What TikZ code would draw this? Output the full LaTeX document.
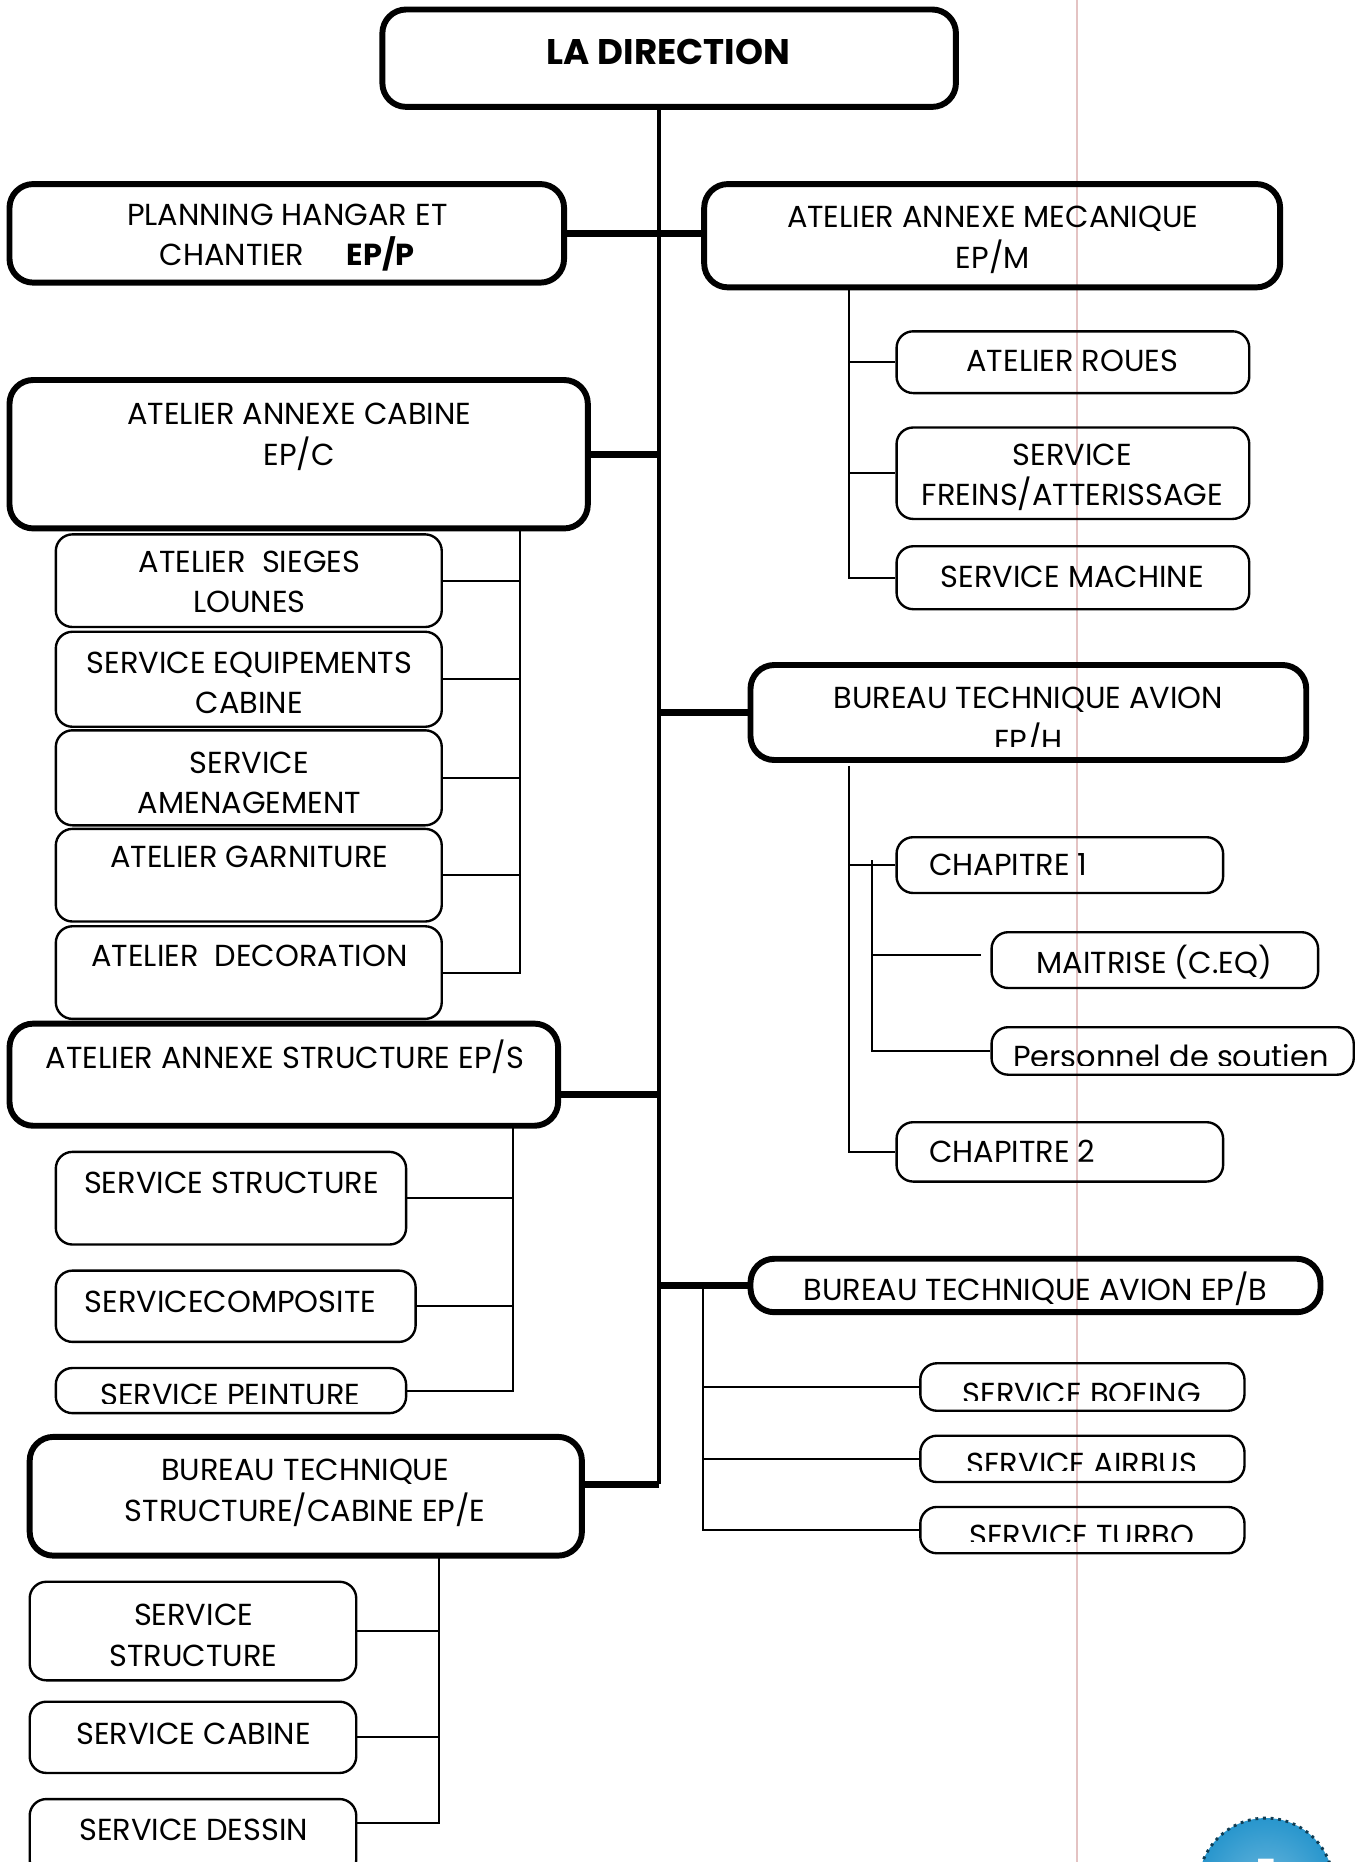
\documentclass[tikz,border=0pt]{standalone}
\usepackage{fontspec}
\setmainfont{Poppins}
\usetikzlibrary{fit, positioning}

\definecolor{pageblue}{RGB}{40,150,205}
\definecolor{scanline}{RGB}{228,195,195}

\tikzset{
  head/.style={draw, line width=2.5pt, rounded corners=10pt, inner sep=0pt},
  unit/.style={draw, line width=1pt, rounded corners=7pt, inner sep=0pt},
  lbl/.style={align=center, inner sep=0pt, font=\fontsize{12.8}{17}\selectfont},
  bus/.style={line width=3pt},
  trunk/.style={line width=1.8pt},
  link/.style={line width=0.9pt},
}

\begin{document}
\begin{tikzpicture}[x=0.5pt, y=-0.5pt]
  \clip (0,0) rectangle (1150,1568);
  \fill[white] (0,0) rectangle (1150,1568);
  \draw[scanline, line width=0.6pt] (907,0) -- (907,1568);

  % Direction
  \node[head, fit={(322,8) (805,90)}] (dir) {};
  \node[lbl, font=\fontsize{15}{18}\selectfont\bfseries] (dir-t) at (563,44) {LA DIRECTION};
  \coordinate (t0) at (555,90);

  % Planning / mecanique
  \node[head, fit={(8,155) (475,238)}] (plan) {};
  \node[lbl] (plan-t) at (242,200) {PLANNING HANGAR ET\\CHANTIER\hspace{1.4em}\textbf{EP/P}};
  \node[head, fit={(593,155) (1078,242)}] (mec) {};
  \node[lbl] (mec-t) at (836,202) {ATELIER ANNEXE MECANIQUE\\EP/M};
  \draw[bus] (plan.east) -- (plan.east -| mec.west);

  \node[unit, fit={(755,279) (1052,331)}] (roues) {};
  \node[lbl] (roues-t) at (903,304) {ATELIER ROUES};
  \node[unit, fit={(755,360) (1052,437)}] (freins) {};
  \node[lbl] (freins-t) at (903,402) {SERVICE\\FREINS/ATTERISSAGE};
  \node[unit, fit={(755,460) (1052,513)}] (mach) {};
  \node[lbl] (mach-t) at (903,486) {SERVICE MACHINE};
  \coordinate (m0) at (715,240);
  \foreach \c in {roues, freins, mach}
    \draw[link] (m0) |- (\c.west);

  % Cabine
  \node[head, fit={(8,320) (495,445)}] (cab) {};
  \node[lbl] (cab-t) at (252,368) {ATELIER ANNEXE CABINE\\EP/C};
  \draw[bus] (cab.east) -- (cab.east -| t0);

  \node[unit, fit={(47,450) (372,528)}] (sieg) {};
  \node[lbl] (sieg-t) at (210,490) {ATELIER\ \ SIEGES\\LOUNES};
  \node[unit, fit={(47,532) (372,612)}] (equip) {};
  \node[lbl] (equip-t) at (210,575) {SERVICE EQUIPEMENTS\\CABINE};
  \node[unit, fit={(47,615) (372,695)}] (amen) {};
  \node[lbl] (amen-t) at (210,659) {SERVICE\\AMENAGEMENT};
  \node[unit, fit={(47,698) (372,776)}] (garn) {};
  \node[lbl] (garn-t) at (210,722) {ATELIER GARNITURE};
  \node[unit, fit={(47,780) (372,858)}] (deco) {};
  \node[lbl] (deco-t) at (210,805) {ATELIER\ \ DECORATION};
  \coordinate (c0) at (438,445);
  \foreach \c in {sieg, equip, amen, garn, deco}
    \draw[link] (c0) |- (\c.east);

  % Structure
  \node[head, fit={(8,862) (470,948)}] (eps) {};
  \node[lbl] (eps-t) at (240,890) {ATELIER ANNEXE STRUCTURE EP/S};
  \draw[bus] ([yshift=-8.5pt]eps.east) -- ([yshift=-8.5pt]eps.east -| t0);

  \node[unit, fit={(47,970) (342,1048)}] (sstr) {};
  \node[lbl] (sstr-t) at (195,996) {SERVICE STRUCTURE};
  \node[unit, fit={(47,1070) (350,1130)}] (scomp) {};
  \node[lbl] (scomp-t) at (194,1096) {SERVICECOMPOSITE};
  \node[unit, fit={(47,1152) (342,1190)}] (peint) {};
  \begin{scope}
    \clip (peint.north west) rectangle (peint.east |- 0,1182);
    \node[lbl] (peint-t) at (194,1175) {SERVICE PEINTURE};
  \end{scope}
  \coordinate (s0) at (432,948);
  \foreach \c in {sstr, scomp, peint}
    \draw[link] (s0) |- (\c.east);

  % Bureau structure/cabine
  \node[head, fit={(25,1210) (490,1310)}] (epe) {};
  \node[lbl] (epe-t) at (257,1257) {BUREAU TECHNIQUE\\STRUCTURE/CABINE EP/E};
  \draw[bus] ([yshift=5pt]epe.east) -- ([yshift=5pt]epe.east -| t0);
  \draw[trunk] (t0) -- ([yshift=5pt]epe.east -| t0);

  \node[unit, fit={(25,1332) (300,1415)}] (estr) {};
  \node[lbl] (estr-t) at (163,1377) {SERVICE\\STRUCTURE};
  \node[unit, fit={(25,1433) (300,1493)}] (ecab) {};
  \node[lbl] (ecab-t) at (163,1460) {SERVICE CABINE};
  \node[unit, fit={(25,1515) (300,1580)}] (edes) {};
  \node[lbl] (edes-t) at (163,1541) {SERVICE DESSIN};
  \coordinate (e0) at (370,1310);
  \draw[link] (e0) |- (estr.east);
  \draw[link] (e0) |- (ecab.east);
  \draw[link] (e0) |- ([yshift=6pt]edes.east);

  % Bureau avion EP/H
  \node[head, fit={(632,560) (1100,640)}] (eph) {};
  \begin{scope}
    \clip (eph.north west) rectangle (eph.east |- 0,629);
    \node[lbl, font=\fontsize{12.8}{18}\selectfont] (eph-t) at (866,608) {BUREAU TECHNIQUE AVION\\EP/H};
  \end{scope}
  \draw[bus] (eph.west -| t0) -- (eph.west);

  \node[unit, fit={(755,705) (1030,752)}] (ch1) {};
  \node[lbl, anchor=west] (ch1-t) at (782,728) {CHAPITRE 1};
  \node[unit, fit={(835,785) (1110,832)}] (mait) {};
  \node[lbl] (mait-t) at (972,810) {MAITRISE (C.EQ)};
  \node[unit, fit={(835,865) (1140,905)}] (pers) {};
  \begin{scope}
    \clip (pers.north west) rectangle (pers.east |- 0,897);
    \node[lbl] (pers-t) at (986,889) {Personnel de soutien};
  \end{scope}
  \node[unit, fit={(755,945) (1030,995)}] (ch2) {};
  \node[lbl, anchor=west] (ch2-t) at (782,970) {CHAPITRE 2};
  \coordinate (h0) at (715,645);
  \coordinate (h1) at ([xshift=-10pt, yshift=2pt]ch1.west);
  \draw[link] (h0) |- (ch1.west);
  \draw[link] (h0) |- (ch2.west);
  \draw[link] (h1) |- ([xshift=-4pt, yshift=2pt]mait.west);
  \draw[link] (h1) |- (pers.west);

  % Bureau avion EP/B
  \node[head, fit={(632,1060) (1112,1105)}] (epb) {};
  \node[lbl] (epb-t) at (872,1085) {BUREAU TECHNIQUE AVION EP/B};
  \draw[bus] (epb.west -| t0) -- (epb.west);

  \node[unit, fit={(775,1148) (1048,1188)}] (boe) {};
  \node[unit, fit={(775,1209) (1048,1248)}] (air) {};
  \node[unit, fit={(775,1269) (1048,1308)}] (tur) {};
  \begin{scope}
    \clip (boe.north west) rectangle (boe.east |- 0,1179);
    \node[lbl] (boe-t) at (911,1174) {SERVICE BOEING};
  \end{scope}
  \begin{scope}
    \clip (air.north west) rectangle (air.east |- 0,1238);
    \node[lbl] (air-t) at (911,1233) {SERVICE AIRBUS};
  \end{scope}
  \begin{scope}
    \clip (tur.north west) rectangle (tur.east |- 0,1298);
    \node[lbl] (tur-t) at (911,1293) {SERVICE TURBO};
  \end{scope}
  \coordinate (b0) at (epb.west -| 592,0);
  \foreach \c in {boe, air, tur}
    \draw[link] (b0) |- (\c.west);

  % page number
  \shade[inner color=pageblue!70!white, outer color=pageblue] (1066,1588) circle[radius=28.5pt];
  \draw[pageblue!40!black, dotted, line width=1.2pt] (1066,1588) circle[radius=28.5pt];
  \node[lbl, text=white, font=\fontsize{14}{16}\selectfont\bfseries] (pg) at (1066,1576) {5};
\end{tikzpicture}
\end{document}
